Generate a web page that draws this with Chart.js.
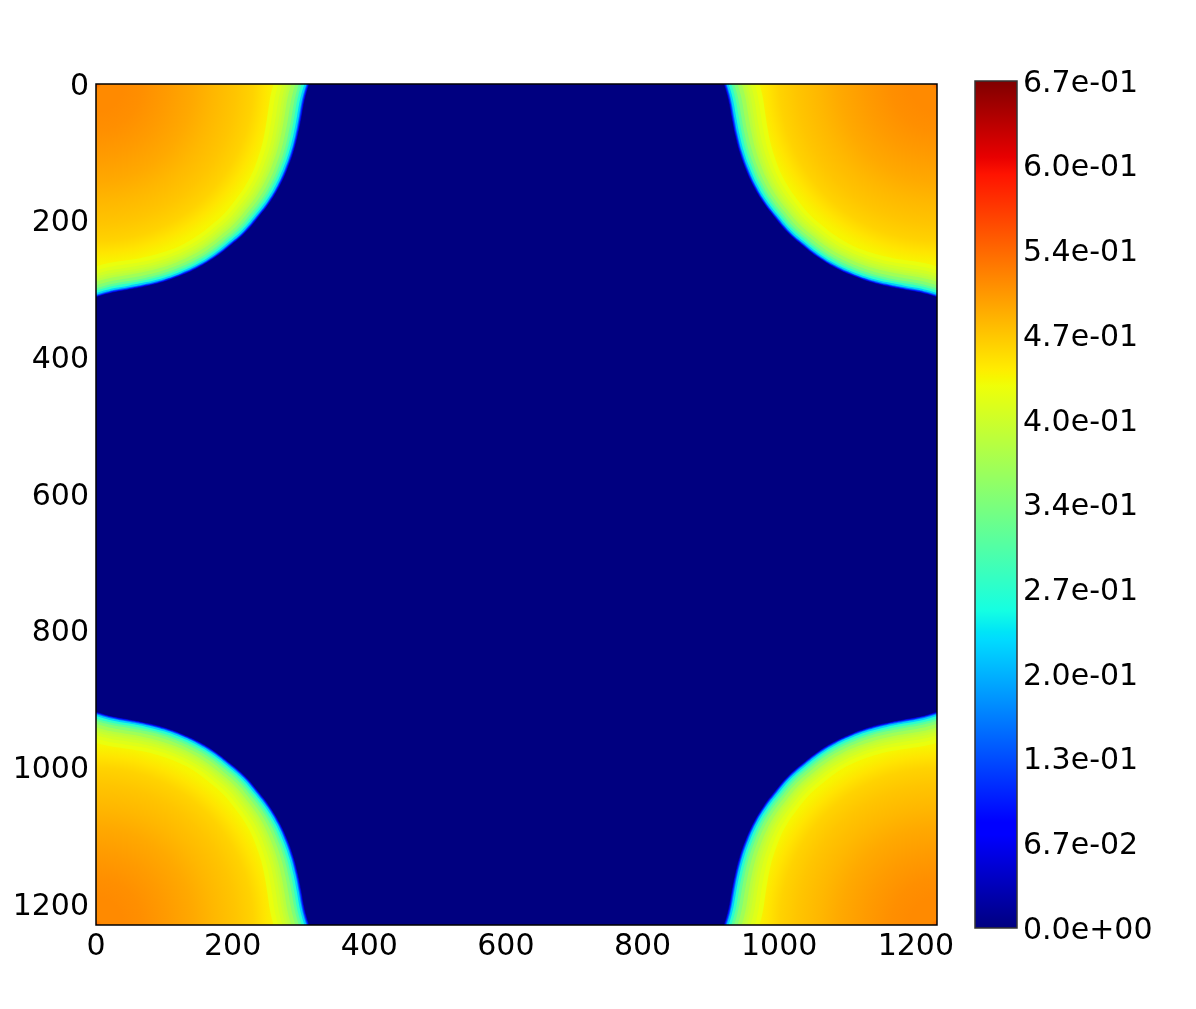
<!DOCTYPE html>
<html>
<head>
<meta charset="utf-8">
<style>
  html, body { margin: 0; padding: 0; background: #fff; }
  canvas { position: absolute; left: 0; top: 0; }
</style>
<script src="https://cdn.jsdelivr.net/npm/chart.js@4"></script>
</head>
<body>
<canvas id="heat" width="1196" height="1009"></canvas>
<canvas id="cbar" width="1196" height="1009"></canvas>
<script>
// field size and tick labels
const fieldSize = 1231;
const axisTicks = [0, 200, 400, 600, 800, 1000, 1200];
const barMax = 0.67;
const barTicks = [0, 0.067, 0.134, 0.201, 0.268, 0.335, 0.402, 0.469, 0.536, 0.603, 0.67];
const barLabels = ["0.0e+00", "6.7e-02", "1.3e-01", "2.0e-01", "2.7e-01", "3.4e-01", "4.0e-01", "4.7e-01", "5.4e-01", "6.0e-01", "6.7e-01"];

const contourLevels = [0.04, 0.10, 0.16, 0.22, 0.27, 0.31, 0.34, 0.365, 0.385, 0.395, 0.405, 0.415, 0.425, 0.433];

// iso lines of the top left corner, from the top edge to the left edge
const contourX = [
  [312, 307.5, 304, 300.5, 295.5, 289, 280, 268.5, 254, 237, 218, 196, 174, 150, 125, 100, 75, 50, 30, 15, 0],
  [311, 306.5, 303, 299.6, 294.6, 288.1, 279.2, 267.7, 253.3, 236.4, 217.4, 195.5, 173.5, 149.6, 124.7, 99.7, 74.8, 49.9, 29.9, 15, 0],
  [309.5, 305, 301.6, 298.2, 293.2, 286.8, 278, 266.6, 252.3, 235.4, 216.6, 194.7, 172.9, 149, 124.2, 99.3, 74.5, 49.7, 29.8, 14.9, 0],
  [308, 303.6, 300.2, 296.7, 291.9, 285.5, 276.7, 265.5, 251.2, 234.4, 215.7, 193.9, 172.2, 148.4, 123.7, 98.9, 74.2, 49.4, 29.6, 14.8, 0],
  [305, 300.6, 297.3, 293.9, 289.1, 282.9, 274.3, 263.2, 249.1, 232.5, 213.9, 192.4, 170.8, 147.2, 122.7, 98.1, 73.6, 49, 29.4, 14.7, 0],
  [301, 296.7, 293.4, 290.2, 285.5, 279.4, 271, 260.1, 246.3, 230, 211.6, 190.3, 168.9, 145.6, 121.4, 97, 72.8, 48.5, 29, 14.5, 0],
  [297, 292.8, 289.6, 286.4, 281.9, 276, 267.7, 257.1, 243.5, 227.4, 209.3, 188.2, 167.1, 144, 120, 96, 72, 47.9, 28.7, 14.3, 0],
  [292, 287.9, 284.8, 281.7, 277.3, 271.6, 263.6, 253.3, 240, 224.2, 206.4, 185.6, 164.8, 142, 118.4, 94.6, 71, 47.2, 28.2, 14, 0],
  [286, 282, 279, 276.1, 271.8, 266.4, 258.7, 248.7, 235.8, 220.4, 202.9, 182.5, 162, 139.6, 116.4, 93, 69.8, 46.4, 27.7, 13.7, 0],
  [282, 278.1, 275.2, 272.3, 268.2, 262.9, 255.4, 245.7, 233, 217.8, 200.6, 180.4, 160.2, 138, 115.1, 91.9, 69, 45.8, 27.3, 13.5, 0],
  [278, 274.2, 271.4, 268.5, 264.6, 259.4, 252.1, 242.7, 230.2, 215.2, 198.3, 178.3, 158.4, 136.4, 113.8, 90.8, 68.2, 45.2, 26.9, 13.3, 0],
  [273, 269.3, 266.6, 263.8, 260, 255.1, 248, 238.9, 226.7, 212, 195.4, 175.7, 156.1, 134.4, 112.1, 89.5, 67.2, 44.5, 26.5, 13, 0],
  [267, 263.4, 260.8, 258.2, 254.5, 249.9, 243.1, 234.3, 222.5, 208.2, 191.9, 172.6, 153.3, 132, 110.2, 87.9, 66, 43.7, 26, 12.8, 0],
  [260, 256.5, 254.1, 251.6, 248.2, 243.8, 237.4, 229, 217.6, 203.7, 187.8, 169, 150.1, 129.2, 107.8, 86, 64.6, 42.7, 25.3, 12.4, 0]
];
const contourY = [
  [0, 15, 30, 50, 75, 100, 125, 150, 174, 196, 218, 237, 254, 268.5, 280, 289, 295.5, 300.5, 304, 307.5, 312],
  [0, 15, 29.9, 49.9, 74.8, 99.7, 124.7, 149.6, 173.5, 195.5, 217.4, 236.4, 253.4, 267.8, 279.3, 288.3, 294.7, 299.7, 303.2, 306.7, 311.1],
  [0, 14.9, 29.8, 49.6, 74.5, 99.3, 124.2, 149, 172.9, 194.8, 216.6, 235.5, 252.4, 266.8, 278.2, 287.1, 293.6, 298.5, 301.9, 305.4, 309.8],
  [0, 14.8, 29.6, 49.4, 74.2, 98.9, 123.7, 148.4, 172.2, 194, 215.8, 234.6, 251.5, 265.8, 277.2, 286, 292.4, 297.3, 300.7, 304.1, 308.5],
  [0, 14.7, 29.3, 49, 73.5, 98.1, 122.7, 147.3, 170.9, 192.5, 214.2, 232.9, 249.6, 263.8, 275, 283.8, 290, 294.8, 298.2, 301.6, 305.9],
  [0, 14.5, 28.9, 48.4, 72.7, 97, 121.4, 145.7, 169, 190.5, 212, 230.5, 247.1, 261.1, 272.2, 280.8, 286.9, 291.6, 294.9, 298.2, 302.4],
  [0, 14.3, 28.5, 47.8, 71.9, 96, 120, 144.2, 167.3, 188.5, 209.8, 228.2, 244.6, 258.5, 269.4, 277.8, 283.8, 288.4, 291.6, 294.8, 299],
  [0, 14, 28, 47, 70.8, 94.6, 118.4, 142.2, 165, 186, 207, 225.2, 241.4, 255.1, 265.8, 274, 279.9, 284.3, 287.4, 290.5, 294.6],
  [0, 13.7, 27.4, 46.1, 69.5, 93, 116.4, 139.9, 162.3, 183, 203.7, 221.7, 237.6, 251.1, 261.5, 269.5, 275.2, 279.4, 282.4, 285.4, 289.4],
  [0, 13.5, 27, 45.5, 68.7, 91.9, 115.1, 138.3, 160.5, 181, 201.5, 219.3, 235.1, 248.4, 258.7, 266.5, 272.1, 276.2, 279.1, 282, 285.9],
  [0, 13.3, 26.6, 44.9, 67.9, 90.8, 113.8, 136.7, 158.7, 179, 199.3, 216.9, 232.6, 245.7, 255.9, 263.5, 269, 273, 275.8, 278.6, 282.4],
  [0, 13.1, 26.1, 44.2, 66.8, 89.5, 112.1, 134.8, 156.5, 176.5, 196.6, 214, 229.4, 242.4, 252.3, 259.8, 265.1, 268.9, 271.6, 274.4, 278.1],
  [0, 12.8, 25.5, 43.3, 65.6, 87.9, 110.2, 132.5, 153.8, 173.5, 193.3, 210.5, 225.7, 238.4, 248, 255.3, 260.4, 264, 266.7, 269.3, 272.9],
  [0, 12.9, 24.8, 42.2, 64.1, 86, 107.8, 129.7, 150.6, 170, 189.4, 206.3, 221.2, 233.7, 243.1, 250, 254.9, 258.4, 260.8, 263.3, 266.8]
];

// inside the last iso line the value only depends on the distance to the corner
const coreRadius = [0, 3, 8, 40, 68, 105, 143, 172, 205, 230, 247, 262, 300];
const coreValue = [0.58, 0.53, 0.512, 0.512, 0.508, 0.50, 0.49, 0.48, 0.47, 0.46, 0.447, 0.436, 0.433];

// jet colormap anchors
const jetR = [[0, 0], [0.35, 0], [0.66, 1], [0.89, 1], [1, 0.5]];
const jetG = [[0, 0], [0.125, 0], [0.375, 1], [0.64, 1], [0.91, 0], [1, 0]];
const jetB = [[0, 0.5], [0.11, 1], [0.34, 1], [0.65, 0], [1, 0]];
const barStops = [0, 0.11, 0.125, 0.34, 0.35, 0.375, 0.64, 0.65, 0.66, 0.89, 0.91, 1];

function channel(anchors, t) {
  for (let i = 1; i < anchors.length; i++) {
    if (t <= anchors[i][0]) {
      const a = anchors[i - 1], b = anchors[i];
      return a[1] + (b[1] - a[1]) * (t - a[0]) / (b[0] - a[0]);
    }
  }
  return anchors[anchors.length - 1][1];
}

function jet(t) {
  const r = Math.round(channel(jetR, t) * 255);
  const g = Math.round(channel(jetG, t) * 255);
  const b = Math.round(channel(jetB, t) * 255);
  return "rgb(" + r + "," + g + "," + b + ")";
}

const labelFont = { family: "'DejaVu Sans'", size: 30 };

// closes an iso line outside the plot, the frame clips that part away
function closedLine(xs, ys) {
  const n = xs.length - 1;
  const pts = [[2 * xs[0] - xs[1], -ys[1]]];
  xs.forEach((x, j) => pts.push([x, ys[j]]));
  pts.push([-xs[n - 1], 2 * ys[n] - ys[n - 1]]);
  pts.push([-80, 2 * ys[n] - ys[n - 1]]);
  pts.push([-80, -80]);
  return pts;
}

function coreGradient(ctx, flip) {
  const sx = ctx.chart.scales.x, sy = ctx.chart.scales.y;
  const fallback = jet(0.433 / barMax);
  if (!sx || !sy) return fallback;
  const cx = sx.getPixelForValue(flip[0] ? fieldSize : 0);
  const cy = sy.getPixelForValue(flip[1] ? fieldSize : 0);
  const last = coreRadius[coreRadius.length - 1];
  const rad = Math.abs(sx.getPixelForValue(last) - sx.getPixelForValue(0));
  if (!isFinite(cx) || !isFinite(cy) || !isFinite(rad)) return fallback;
  const g = ctx.chart.ctx.createRadialGradient(cx, cy, 0, cx, cy, rad);
  coreRadius.forEach((r, i) => g.addColorStop(r / last, jet(coreValue[i] / barMax)));
  return g;
}

// four corners, all mirrored from the top left lines
const heatDatasets = [];
[[false, false], [true, false], [false, true], [true, true]].forEach(function (flip) {
  contourLevels.forEach(function (level, i) {
    const points = closedLine(contourX[i], contourY[i]).map(function (p) {
      return {
        x: flip[0] ? fieldSize - p[0] : p[0],
        y: flip[1] ? fieldSize - p[1] : p[1],
      };
    });
    const isCore = i === contourLevels.length - 1;
    heatDatasets.push({
      data: points,
      showLine: true,
      fill: "shape",
      tension: 0.4,
      capBezierPoints: false,
      borderWidth: 0,
      pointRadius: 0,
      backgroundColor: isCore ? (ctx => coreGradient(ctx, flip)) : jet(level / barMax),
      order: contourLevels.length - i,
    });
  });
});

// background and frame of a plot area
const framePlugin = {
  id: "frame",
  beforeDatasetsDraw(chart, args, opts) {
    if (!opts.background) return;
    const a = chart.chartArea;
    chart.ctx.fillStyle = opts.background;
    chart.ctx.fillRect(a.left, a.top, a.width, a.height);
  },
  afterDatasetsDraw(chart, args, opts) {
    const a = chart.chartArea;
    chart.ctx.strokeStyle = opts.color;
    chart.ctx.lineWidth = 1.5;
    chart.ctx.strokeRect(a.left, a.top, a.width, a.height);
  },
};

new Chart(document.getElementById("heat"), {
  type: "scatter",
  data: { datasets: heatDatasets },
  plugins: [framePlugin],
  options: {
    responsive: false,
    animation: false,
    layout: { padding: { top: 84, right: 259, left: 0, bottom: 0 } },
    plugins: {
      legend: { display: false },
      tooltip: { enabled: false },
      frame: { background: jet(0), color: "#000" },
    },
    scales: {
      x: {
        type: "linear",
        min: 0,
        max: fieldSize,
        grid: { display: false, drawTicks: false },
        border: { display: false },
        afterBuildTicks(scale) { scale.ticks = axisTicks.map(v => ({ value: v })); },
        afterFit(scale) { scale.height = 84; },
        ticks: { color: "#000", font: labelFont, padding: 4, maxRotation: 0, autoSkip: false, callback: v => String(v) },
      },
      y: {
        type: "linear",
        reverse: true,
        min: 0,
        max: fieldSize,
        grid: { display: false, drawTicks: false },
        border: { display: false },
        afterBuildTicks(scale) { scale.ticks = axisTicks.map(v => ({ value: v })); },
        afterFit(scale) { scale.width = 96; },
        ticks: { color: "#000", font: labelFont, padding: 7, labelOffset: 3, autoSkip: false, callback: v => String(v) },
      },
    },
  },
});

new Chart(document.getElementById("cbar"), {
  type: "bar",
  data: {
    labels: [""],
    datasets: [{
      data: [[0, barMax]],
      barPercentage: 1,
      categoryPercentage: 1,
      backgroundColor(ctx) {
        const area = ctx.chart.chartArea;
        if (!area) return jet(0);
        const g = ctx.chart.ctx.createLinearGradient(0, area.bottom, 0, area.top);
        barStops.forEach(t => g.addColorStop(t, jet(t)));
        return g;
      },
    }],
  },
  plugins: [framePlugin],
  options: {
    responsive: false,
    animation: false,
    layout: { padding: { left: 975, top: 81, bottom: 81, right: 0 } },
    plugins: {
      legend: { display: false },
      tooltip: { enabled: false },
      frame: { color: "#333" },
    },
    scales: {
      x: { display: false },
      y: {
        position: "right",
        min: 0,
        max: barMax,
        grid: { display: false, drawTicks: false },
        border: { display: false },
        afterBuildTicks(scale) { scale.ticks = barTicks.map(v => ({ value: v })); },
        afterFit(scale) { scale.width = 179; },
        ticks: {
          color: "#000",
          font: labelFont,
          padding: 6,
          labelOffset: 3,
          autoSkip: false,
          callback(value, index) { return barLabels[index]; },
        },
      },
    },
  },
});
</script>
</body>
</html>
